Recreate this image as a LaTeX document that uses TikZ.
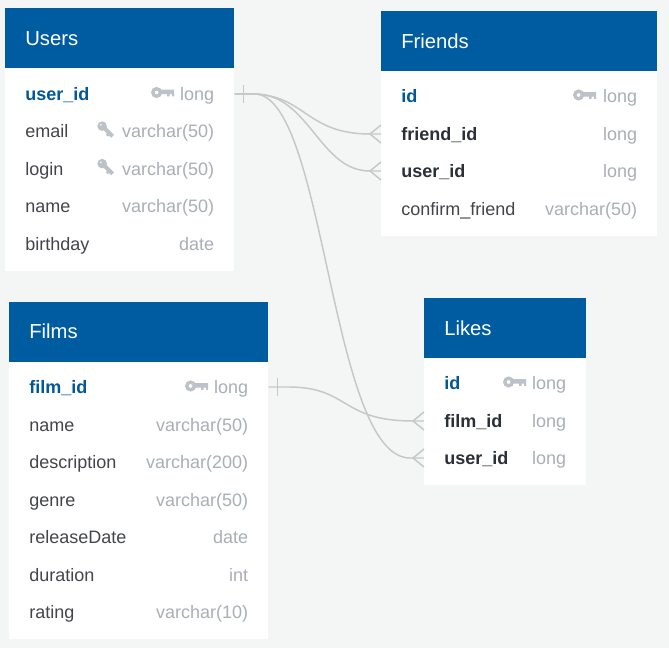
\documentclass[tikz,border=0pt]{standalone}
\usepackage{fontspec}
\setmainfont{Liberation Sans}
\usetikzlibrary{calc}
\definecolor{pagebg}{HTML}{F4F6F5}
\definecolor{headblue}{HTML}{005CA1}
\definecolor{pkblue}{HTML}{00579A}
\definecolor{fkdark}{HTML}{2A2F38}
\definecolor{plain}{HTML}{43454A}
\definecolor{typegrey}{HTML}{A9AFB7}
\definecolor{iconA}{HTML}{BCC2C8}
\definecolor{linkgrey}{HTML}{C4C8C8}
\tikzset{
  x=0.75pt,y=-0.75pt,
  headbox/.style={fill=headblue,draw=none,inner sep=0,anchor=north west},
  bodybox/.style={fill=white,draw=none,inner sep=0,anchor=north west},
  title/.style={text=white,anchor=base west,inner sep=0,font=\fontsize{15.2pt}{18pt}\selectfont},
  rowbox/.style={draw=none,inner sep=0,anchor=west,minimum height=20pt},
  nm/.style={anchor=base west,inner sep=0,text=plain,font=\fontsize{13.5pt}{16pt}\selectfont},
  pk/.style={nm,text=pkblue,font=\fontsize{13.5pt}{16pt}\selectfont\bfseries},
  fk/.style={nm,text=fkdark,font=\fontsize{13.5pt}{16pt}\selectfont\bfseries},
  ty/.style={anchor=base east,inner sep=0,text=typegrey,font=\fontsize{13.5pt}{16pt}\selectfont},
  link/.style={draw=linkgrey,line width=1.1pt},
  pkicon/.pic={
    \fill[iconA,even odd rule] (5.6,0) circle[radius=5.6] (5.6,0) circle[radius=2];
    \fill[iconA] (9,-2.8) -- (23,-2.8) -- (23,3.8) -- (21,3.8) -- (21,1.6) -- (18.5,1.6) -- (18.5,3.8) -- (16,3.8) -- (16,1.6) -- (9,1.6) -- cycle;
  },
  fkicon/.pic={
    \begin{scope}[rotate=-45,scale=0.88]
    \fill[iconA,even odd rule] (-3,0) circle[radius=5.4] (-5,0) circle[radius=1.3];
    \fill[iconA] (0,-2.5) -- (13.5,-2.5) -- (13.5,2.2) -- (10,2.2) -- (10,4) -- (7,4) -- (7,2.2) -- (0,2.2) -- cycle;
    \end{scope}
  },
}
% \tbl{id}{left}{right}{head top}{body bottom}{title}{title baseline offset}
\newcommand{\tbl}[7]{%
  \node[bodybox,minimum width={(#3-#2)*0.75pt},minimum height={(#5-#4)*0.75pt}] (#1) at (#2,#4) {};
  \node[headbox,minimum width={(#3-#2)*0.75pt},minimum height=45pt] (#1head) at (#2,#4) {};
  \node[title] (#1title) at (#2+20,#4+#7) {#6};
}
% \rw{id}{left}{right}{y}{style}{name}{type}
\newcommand{\rw}[7]{%
  \node[rowbox,minimum width={(#3-#2)*0.75pt}] (#1) at (#2,#4) {};
  \node[#5] (#1name) at (#2+20,#4+6.3) {#6};
  \node[ty] (#1type) at (#3-19.6,#4+6.3) {#7};
}
\begin{document}
\begin{tikzpicture}
\fill[pagebg] (0,0) rectangle (669,648);
\useasboundingbox (0,0) rectangle (669,648);

% Users
\tbl{users}{5}{234}{8}{271}{Users}{38}
\rw{uid}{5}{234}{94}{pk}{user\_id}{long}
\rw{uemail}{5}{234}{131}{nm}{email}{varchar(50)}
\rw{ulogin}{5}{234}{169}{nm}{login}{varchar(50)}
\rw{uname}{5}{234}{206}{nm}{name}{varchar(50)}
\rw{ubirth}{5}{234}{244}{nm}{birthday}{date}
\pic at (151,92.5) {pkicon};
\pic at (104,128) {fkicon};
\pic at (104,165.5) {fkicon};

% Friends
\tbl{friends}{381}{657}{11}{236}{Friends}{37.5}
\rw{fid}{381}{657}{96}{pk}{id}{long}
\rw{ffriend}{381}{657}{134}{fk}{friend\_id}{long}
\rw{fuser}{381}{657}{171}{fk}{user\_id}{long}
\rw{fconf}{381}{657}{209}{nm}{confirm\_friend}{varchar(50)}
\pic at (573,95) {pkicon};

% Films
\tbl{films}{9}{268}{302}{639}{Films}{37}
\rw{mid}{9}{268}{387}{pk}{film\_id}{long}
\rw{mname}{9}{268}{425}{nm}{name}{varchar(50)}
\rw{mdesc}{9}{268}{462}{nm}{description}{varchar(200)}
\rw{mgenre}{9}{268}{500}{nm}{genre}{varchar(50)}
\rw{mrel}{9}{268}{537}{nm}{releaseDate}{date}
\rw{mdur}{9}{268}{575}{nm}{duration}{int}
\rw{mrate}{9}{268}{612}{nm}{rating}{varchar(10)}
\pic at (185,386) {pkicon};

% Likes
\tbl{likes}{424}{586}{298}{485}{Likes}{37.5}
\rw{lid}{424}{586}{383}{pk}{id}{long}
\rw{lfilm}{424}{586}{421}{fk}{film\_id}{long}
\rw{luser}{424}{586}{458}{fk}{user\_id}{long}
\pic at (503,382) {pkicon};

% Connectors
\draw[link] (uid.east) -- ++(16,0) .. controls ++(55,0) and ($(ffriend.west)+(-76,0)$) .. ($(ffriend.west)+(-11,0)$) -- (ffriend.west);
\draw[link] (uid.east) -- ++(20,0) .. controls ++(55,0) and ($(fuser.west)+(-62,0)$) .. ($(fuser.west)+(-11,0)$) -- (fuser.west);
\draw[link] (uid.east) -- ++(20,0) .. controls ++(71,0) and ($(luser.west)+(-94,0)$) .. ($(luser.west)+(-14,0)$) -- (luser.west);
\draw[link] (mid.east) -- ++(20,0) .. controls ++(61,0) and ($(lfilm.west)+(-84,0)$) .. ($(lfilm.west)+(-11,0)$) -- (lfilm.west);
% one-side ticks
\draw[link] ($(uid.east)+(9,-9)$) -- ($(uid.east)+(9,9)$);
\draw[link] ($(mid.east)+(9,-9)$) -- ($(mid.east)+(9,9)$);
% crow's feet
\foreach \n in {ffriend,fuser,lfilm,luser}{
  \draw[link] ($(\n.west)+(0,-9)$) -- ($(\n.west)+(-11,0)$) -- ($(\n.west)+(0,9)$);
}
\end{tikzpicture}
\end{document}
